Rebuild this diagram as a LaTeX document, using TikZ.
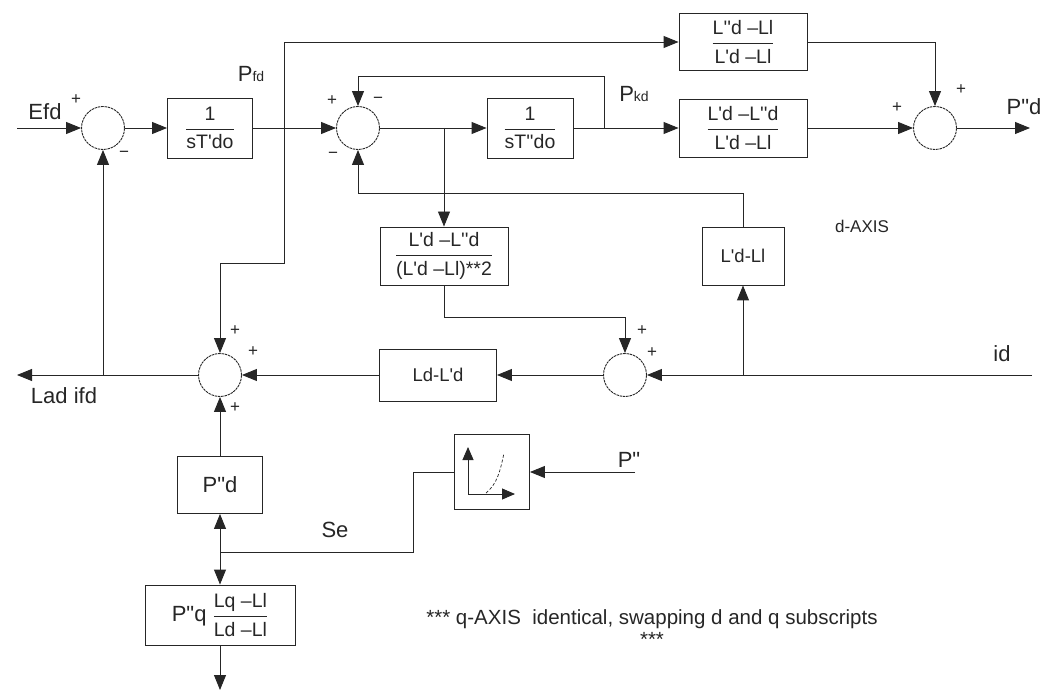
\documentclass[tikz,border=0pt]{standalone}
\usepackage{amsmath}
\usepackage{fontspec}
\setmainfont{Liberation Sans}[Ligatures=TeXOff]
\usetikzlibrary{arrows.meta,positioning,calc}
\newcommand{\boxfont}{\fontsize{18.5}{20}\selectfont}
\newcommand{\fracfont}{\fontsize{19.5}{21}\selectfont}
\newcommand{\lblfont}{\fontsize{22}{24}\selectfont}
\newcommand{\notefont}{\fontsize{20.5}{22}\selectfont}
\newcommand{\sgnfont}{\fontsize{17}{18}\selectfont}
\newcommand{\subfont}{\fontsize{14}{15}\selectfont}
\newcommand{\ratio}[2]{{\fracfont$\dfrac{\hbox{#1}}{\hbox{#2}}$}}

\begin{document}
\begin{tikzpicture}[x=1pt, y=-1pt, line width=0.9pt, color=black!85, font=\boxfont,
  block/.style={draw, minimum height=58pt, inner sep=0pt, align=center},
  sumnode/.style={circle, draw, dash pattern=on 2.5pt off 0.8pt, minimum size=43pt, inner sep=0pt},
  arrow/.style={-{Triangle[length=15pt, width=12pt]}},
  sgn/.style={font=\sgnfont, inner sep=0pt},
  lbl/.style={font=\lblfont, inner sep=0pt}]
  \useasboundingbox (0,0) rectangle (1041,700);
  % d-axis blocks
  \node[sumnode] (sum1) at (103,128) {};
  \node[block, minimum width=85pt, minimum height=60pt] (tf1) at (210,128) {\ratio{1}{sT'do}};
  \node[sumnode] (sum2) at (358,128) {};
  \node[block, minimum width=86pt, minimum height=60pt] (tf2) at (530,128) {\ratio{1}{sT''do}};
  \node[block, minimum width=128pt, minimum height=57pt] (gtop) at (743,42) {\ratio{L''d –Ll}{L'd –Ll}};
  \node[block, minimum width=128pt] (gmid) at (743,128) {\ratio{L'd –L''d}{L'd –Ll}};
  \node[sumnode] (sum4) at (935,128) {};
  \node[block, minimum width=128pt] (gsq) at (444,256) {\ratio{L'd –L''d}{(L'd –Ll)**2}};
  \node[block, minimum width=82pt] (gll) at (743,256) {L'd-Ll};
  \node[sumnode] (sum3) at (220,375) {};
  \node[block, minimum width=117pt, minimum height=52pt] (gld) at (438,375) {Ld-L'd};
  \node[sumnode] (sum5) at (625,375) {};
  \node[block, minimum width=85pt, minimum height=57pt, font=\lblfont] (gpd) at (220,485) {P"d};
  \node[block, minimum width=150pt, minimum height=60pt, font=\lblfont] (gpq) at (220,615) {P"q\ \ratio{Lq –Ll}{Ld –Ll}};
  \node[block, minimum width=75pt, minimum height=75pt] (sat) at (492,472) {};
  % free ends and bends
  \coordinate (efdin) at (17,128);
  \coordinate (ladout) at (17,375);
  \coordinate (idin) at (1032,375);
  \coordinate (pin) at (635,472);
  \coordinate (pdout) at (1030,128);
  \coordinate (qout) at (220,690);
  \coordinate (jf) at (284,128);
  \coordinate (jfdn) at (284,263);
  \coordinate (jk) at (444,128);
  \coordinate (jp) at (604,128);
  \coordinate (jpup) at (604,76);
  \coordinate (fb) at (743,193);
  \coordinate (ji) at (743,375);
  \coordinate (sqdn) at (444,317);
  \coordinate (jl) at (103,375);
  \coordinate (js) at (220,552);
  \coordinate (sebend) at (413,552);
  % connectors
  \draw[arrow] (efdin) -- (sum1.west);
  \draw[arrow] (sum1.east) -- (tf1.west);
  \draw[arrow] (tf1.east) -- (sum2.west);
  \draw[arrow] (jf) |- (gtop.west);
  \draw[arrow] (jf) -- (jfdn) -| (sum3.north);
  \draw[arrow] (sum2.east) -- (tf2.west);
  \draw[arrow] (jk) -- (gsq.north);
  \draw[arrow] (tf2.east) -- (gmid.west);
  \draw[arrow] (jp) -- (jpup) -| (sum2.north);
  \draw[arrow] (gtop.east) -| (sum4.north);
  \draw[arrow] (gmid.east) -- (sum4.west);
  \draw[arrow] (sum4.east) -- (pdout);
  \draw[arrow] (gll.north) -- (fb) -| (sum2.south);
  \draw[arrow] (idin) -- (sum5.east);
  \draw[arrow] (ji) -- (gll.south);
  \draw[arrow] (gsq.south) -- (sqdn) -| (sum5.north);
  \draw[arrow] (sum5.west) -- (gld.east);
  \draw[arrow] (gld.west) -- (sum3.east);
  \draw[arrow] (sum3.west) -- (ladout);
  \draw[arrow] (jl) -- (sum1.south);
  \draw[arrow] (gpd.north) -- (sum3.south);
  \draw[arrow] (js) -- (gpd.south);
  \draw[arrow] (js) -- (gpq.north);
  \draw (js) -- (sebend) |- (sat.west);
  \draw[arrow] (gpq.south) -- (qout);
  \draw[arrow] (pin) -- (sat.east);
  % saturation curve
  \draw[{Triangle[length=13pt, width=11pt]}-{Triangle[length=13pt, width=11pt]}] ($(sat)+(-24,-25)$) -- ($(sat)+(-24,22)$) -- ($(sat)+(23,22)$);
  \draw[densely dashed, line width=0.7pt] ($(sat)+(-6,21)$) .. controls ($(sat)+(5,12)$) and ($(sat)+(8,0)$) .. ($(sat)+(12,-19)$);
  % signs
  \node[sgn] at (76,100) {+};
  \node[sgn] at (124,154) {−};
  \node[sgn] at (332,101) {+};
  \node[sgn] at (378,100) {−};
  \node[sgn] at (333,155) {−};
  \node[sgn] at (897,108) {+};
  \node[sgn] at (961,90) {+};
  \node[sgn] at (235,331) {+};
  \node[sgn] at (253,352) {+};
  \node[sgn] at (235,408) {+};
  \node[sgn] at (642,331) {+};
  \node[sgn] at (652,353) {+};
  % labels
  \node[lbl] (efd) at (45,112) {Efd};
  \node[lbl] (pfd) at (251,74) {P{\subfont fd}};
  \node[lbl] (pkd) at (634,94) {P{\subfont kd}};
  \node[lbl] (pdlbl) at (1024,107) {P"d};
  \node[lbl] (ladlbl) at (64,396) {Lad ifd};
  \node[lbl] (idlbl) at (1002,354) {id};
  \node[lbl] (pplbl) at (629,460) {P"};
  \node[lbl] (selbl) at (335,530) {Se};
  \node[font=\fontsize{17}{19}\selectfont] (daxis) at (862,226) {d-AXIS};
  \node[font=\notefont, inner sep=0pt, align=center] (note) at (652,628) {*** q-AXIS\ \ identical, swapping d and q subscripts\\***};
\end{tikzpicture}
\end{document}
